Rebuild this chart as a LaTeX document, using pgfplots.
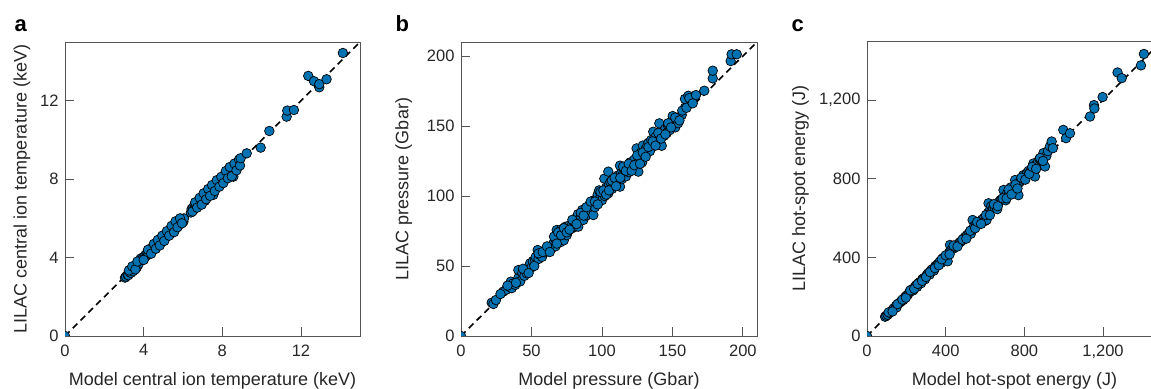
\documentclass[border=0pt]{standalone}
\usepackage{fontspec}
\setmainfont{Liberation Sans}
\usepackage{pgfplots}
\pgfplotsset{compat=1.18}
\definecolor{ptblue}{RGB}{0,114,178}
\definecolor{axgray}{RGB}{85,85,85}
\pgfplotsset{
  myax/.style={
    scale only axis,
    axis line style={axgray, line width=0.9bp},
    tick style={axgray, line width=0.9bp},
    major tick length=9bp,
    tick align=inside,
    xtick pos=lower, ytick pos=lower,
    tick label style={font=\fontsize{16.5bp}{19bp}\selectfont, text=black!85},
    xticklabel style={yshift=-5bp},
    yticklabel style={xshift=-3bp},
    clip marker paths=true,
    every axis x label/.style={at={(axis description cs:0.5,-0.1667)}, anchor=base,
      font=\fontsize{18bp}{20bp}\selectfont, text=black!85},
    every axis y label/.style={rotate=90, anchor=base,
      font=\fontsize{18bp}{20bp}\selectfont, text=black!85},
  },
  pts/.style={only marks, mark=*, mark size=4.8bp, mark options={fill=ptblue, draw=black, line width=0.7bp}},
  diag/.style={black, line width=1.6bp, dash pattern=on 6.5bp off 4.5bp, no marks},
}
\begin{document}
\begin{tikzpicture}[x=1bp,y=1bp]
% ---------------- panel a
\begin{axis}[myax, at={(65bp,53bp)}, anchor=south west, width=295bp, height=294bp,
  xmin=0, xmax=15, ymin=0, ymax=15,
  xtick={0,4,8,12}, xticklabels={0,4,8,12},
  ytick={0,4,8,12}, yticklabels={0,4,8,12},
  xlabel={Model central ion temperature (keV)},
  ylabel={LILAC central ion temperature (keV)},
  ylabel style={at={(axis description cs:-0.130,0.5)}}]
\addplot[diag] coordinates {(0,0) (15,15)};
\addplot[pts] coordinates {
(0,0)
(3.05,2.98) (3.10,3.03) (3.18,3.12) (3.22,3.10) (3.30,3.25) (3.35,3.22) (3.40,3.38) (3.45,3.30)
(3.50,3.48) (3.55,3.42) (3.60,3.55) (3.65,3.50) (3.70,3.62) (3.75,3.68) (3.80,3.85) (3.85,3.95)
(3.92,3.90) (3.98,4.02) (4.05,4.00) (4.10,4.15) (4.15,4.10) (4.20,4.25) (4.25,4.18) (4.30,4.35)
(4.35,4.30) (4.40,4.48) (4.45,4.38) (4.50,4.55) (4.55,4.45) (4.60,4.68) (4.65,4.58) (4.70,4.78)
(4.75,4.65) (4.80,4.88) (4.85,4.72) (4.90,5.00) (4.95,4.85) (5.00,5.05) (5.05,4.95) (5.10,5.18)
(5.15,5.05) (5.20,5.30) (5.25,5.15) (5.30,5.38) (5.35,5.22) (5.40,5.50) (5.45,5.35) (5.50,5.58)
(5.52,5.36) (5.55,5.45) (5.60,5.70) (5.65,5.52) (5.70,5.80) (5.75,5.62) (5.80,5.85) (5.85,5.70)
(5.90,5.98) (5.95,5.88) (6.02,5.83) (6.05,6.00) (6.40,6.30) (6.44,6.48) (6.50,6.55) (6.55,6.45)
(6.60,6.70) (6.65,6.58) (6.70,6.82) (6.75,6.65) (6.80,6.90) (6.85,6.75) (6.90,7.00) (6.95,6.85)
(7.00,7.12) (7.05,6.95) (7.10,7.20) (7.12,6.90) (7.15,7.05) (7.20,7.35) (7.25,7.15) (7.30,7.40)
(7.35,7.25) (7.40,7.50) (7.45,7.32) (7.50,7.62) (7.55,7.45) (7.54,7.20) (7.60,7.70) (7.65,7.55)
(7.70,7.82) (7.75,7.60) (7.80,7.90) (7.85,7.72) (7.90,8.00) (7.95,7.85) (8.00,8.08) (8.02,7.88)
(8.10,8.20) (8.15,8.05) (8.20,8.30) (8.25,8.15) (8.30,8.45) (8.35,8.55) (8.40,8.35) (8.45,8.25)
(8.50,8.60) (8.55,8.45) (8.56,8.13) (8.65,8.55) (8.70,8.70) (8.75,8.60) (8.80,8.85) (8.85,8.75)
(3.25,3.35) (3.42,3.55) (3.58,3.40) (3.68,3.80) (4.00,3.88) (4.22,4.40) (4.38,4.20) (4.52,4.70)
(4.62,4.45) (4.72,4.90) (4.82,4.62) (4.95,5.12) (5.05,4.85) (5.18,5.35) (5.30,5.12) (5.42,5.62)
(5.55,5.30) (5.62,5.85) (5.72,5.55) (5.85,6.00) (5.95,5.75) (6.48,6.35) (6.62,6.82) (6.72,6.55)
(6.85,7.05) (6.95,6.70) (7.05,7.28) (7.18,6.98) (7.28,7.50) (7.38,7.15) (7.48,7.70) (7.62,7.40)
(7.72,7.95) (7.85,7.62) (7.95,8.12) (8.05,7.80) (8.18,8.42) (8.28,8.05) (8.38,8.62) (8.48,8.15)
(8.62,8.80) (8.72,8.45) (8.85,9.00) (8.90,8.70)
(8.93,9.07) (9.24,9.32) (9.95,9.61) (10.39,10.46) (11.27,11.19) (11.30,11.50) (11.64,11.53)
(12.37,13.27) (12.66,13.00) (12.93,12.69) (12.93,12.85) (13.30,13.10) (14.13,14.44)
};
\end{axis}
% ---------------- panel b
\begin{axis}[myax, at={(461bp,53bp)}, anchor=south west, width=296bp, height=294bp,
  xmin=0, xmax=210, ymin=0, ymax=210,
  xtick={0,50,100,150,200}, xticklabels={0,50,100,150,200},
  ytick={0,50,100,150,200}, yticklabels={0,50,100,150,200},
  xlabel={Model pressure (Gbar)},
  ylabel={LILAC pressure (Gbar)},
  ylabel style={at={(axis description cs:-0.178,0.5)}}]
\addplot[diag] coordinates {(0,0) (210,210)};
\addplot[pts] coordinates {
(0,0)
(21.8,23.8) (23.0,22.9) (24.8,25.7) (30.0,31.7) (32.0,33.0) (34.5,35.0) (35.3,38.8) (36.0,34.2)
(37.1,37.6) (38.5,36.5) (40.7,41.4) (40.7,47.1) (42.0,39.0) (43.5,45.0) (45.0,43.0) (46.6,44.8)
(47.5,47.5) (49.0,51.9) (50.0,49.0) (51.0,53.5) (52.5,54.3) (53.0,56.5) (54.4,61.4) (55.0,55.0)
(56.0,58.0) (57.5,56.5) (59.6,59.8) (62.0,61.5) (64.3,62.6) (65.5,66.0) (66.7,69.8) (67.0,64.0)
(67.9,75.7) (68.5,72.0) (69.0,68.0) (70.0,73.5) (70.5,67.0) (71.0,76.0) (72.0,70.5) (72.9,68.3)
(73.5,74.0) (74.0,78.0) (75.0,72.0) (76.0,75.0) (77.0,79.0) (78.0,76.5) (79.0,80.0) (80.0,82.0)
(81.0,78.0) (82.0,84.5) (83.2,78.1) (83.0,87.0) (84.0,83.0) (85.0,85.5) (86.0,90.0) (86.8,82.9)
(88.0,88.0) (89.0,86.0) (90.0,91.0) (91.0,93.5) (92.0,89.0) (93.0,95.0) (93.9,86.4) (94.5,97.0)
(95.0,92.0) (96.3,98.3) (97.0,101.0) (97.5,95.5) (98.0,104.0) (99.0,99.5) (100.0,97.0) (100.5,102.5)
(101.7,112.4) (102.0,100.0) (103.0,106.0) (104.0,103.5) (104.5,117.4) (104.5,101.9) (105.0,108.0)
(106.0,110.0) (107.0,105.0) (108.0,112.0) (109.0,107.5) (110.0,111.0) (111.0,114.5) (112.0,109.0)
(112.8,121.7) (112.8,106.7) (113.5,116.0) (114.0,112.0) (115.0,116.0) (116.0,119.0) (117.0,114.0)
(118.0,121.0) (119.0,117.0) (120.0,124.0) (121.3,123.0) (122.0,119.5) (123.0,126.0) (124.6,134.0)
(124.0,121.0) (125.8,117.4) (126.0,125.0) (127.0,128.0) (127.8,131.0) (128.5,124.0) (129.0,136.0)
(130.0,130.0) (131.0,133.5) (132.2,135.9) (133.0,138.0) (134.0,132.0) (135.0,140.0) (136.4,145.9)
(137.0,137.0) (138.0,142.0) (139.0,139.0) (140.7,151.9) (141.0,140.3) (142.4,135.9) (143.5,146.0)
(144.0,143.0) (145.0,148.0) (146.0,145.0) (147.0,150.0) (148.0,147.0) (150.2,157.1) (151.1,151.9)
(152.0,149.0) (153.0,154.0) (154.0,152.0) (156.6,157.9) (158.9,163.1) (158.9,169.3) (161.3,171.6)
(28,30) (33,36) (39,38) (44,48) (48,45) (52,50) (55,59) (58,60) (61,64) (63,60) (66,71) (68,66)
(69,74) (71,72) (73,77) (75,74) (77,76) (79,83) (82,80) (85,88) (87,86) (89,92) (92,96) (95,96)
(97,94) (99,103) (101,104) (103,101) (105,104) (107,111) (109,113) (110,107) (113,113) (115,121)
(117,118) (119,123) (121,118) (123,122) (125,129) (127,123) (129,131) (131,128) (133,135) (136,139)
(138,136) (140,145) (142,141) (145,144) (147,152) (149,149) (152,156) (155,154) (157,161) (160,163)
(162,170)
(164.4,166.2) (166.7,172.1) (172.6,175.2) (178.6,184.0) (178.6,189.5) (191.3,196.4) (192.0,201.2)
(195.6,201.2)
};
\end{axis}
% ---------------- panel c
\begin{axis}[myax, at={(867bp,53bp)}, anchor=south west, width=295bp, height=295bp,
  xmin=0, xmax=1500, ymin=0, ymax=1500,
  xtick={0,400,800,1200}, xticklabels={0,400,800,{1,200}},
  ytick={0,400,800,1200}, yticklabels={0,400,800,{1,200}},
  xlabel={Model hot-spot energy (J)},
  ylabel={LILAC hot-spot energy (J)},
  ylabel style={at={(axis description cs:-0.210,0.5)}}]
\addplot[diag] coordinates {(0,0) (1500,1500)};
\addplot[pts] coordinates {
(0,0)
(92,98) (98,103) (105,108) (115,118) (125,128) (135,140) (147,153) (150,145) (160,165) (170,172)
(175,178) (185,183) (192,196) (200,205) (208,210) (215,222) (222,228) (230,238) (235,232) (244,250)
(250,258) (255,250) (262,268) (270,275) (275,268) (282,290) (290,295) (295,288) (303,309) (310,318)
(318,312) (325,333) (332,340) (340,332) (348,356) (355,360) (362,368) (370,378) (378,372) (385,395)
(395,402) (405,403) (410,380) (418,425) (422,463) (430,440) (440,445) (448,452) (455,460) (465,470)
(473,477) (480,482) (490,495) (500,505) (510,515) (520,525) (528,520) (532,539) (537,590) (545,560)
(555,565) (565,575) (575,580) (585,592) (595,600) (600,585) (608,590) (615,625) (618,675) (625,640)
(632,660) (640,650) (648,655) (655,665) (662,645) (670,680) (678,690) (685,695) (694,742) (700,710)
(705,690) (712,725) (718,715) (725,740) (730,755) (738,735) (745,730) (753,793) (760,765) (770,716)
(775,780) (782,790) (790,800) (795,818) (800,805) (808,820) (815,830) (822,840) (830,835) (838,850)
(846,877) (852,860) (854,811) (860,870) (870,885) (877,900) (885,895) (897,930) (905,862) (912,915)
(110,120) (130,125) (155,162) (180,185) (198,195) (220,232) (240,240) (258,265) (280,280) (300,300)
(320,325) (345,345) (365,360) (380,390) (400,410) (420,415) (440,460) (460,455) (485,490) (505,495)
(525,535) (550,548) (560,580) (580,570) (605,615) (625,615) (645,670) (665,660) (690,700) (710,700)
(720,745) (735,720) (755,770) (765,750) (785,805) (805,795) (825,825) (840,860) (860,850) (880,905)
(895,890)
(920,940) (930,964) (939,989) (945,955) (998,1048) (1012,1006) (1032,1031) (1134,1116) (1154,1174)
(1156,1157) (1198,1215) (1274,1340) (1295,1311) (1393,1376) (1408,1434)
};
\end{axis}
\node[anchor=base west, font=\fontsize{22bp}{24bp}\selectfont\bfseries] at (11bp,357bp) {a};
\node[anchor=base west, font=\fontsize{22bp}{24bp}\selectfont\bfseries] at (392bp,357bp) {b};
\node[anchor=base west, font=\fontsize{22bp}{24bp}\selectfont\bfseries] at (788bp,357bp) {c};
\pgfresetboundingbox
\useasboundingbox (0,0) rectangle (1151bp,389bp);
\end{tikzpicture}
\end{document}
